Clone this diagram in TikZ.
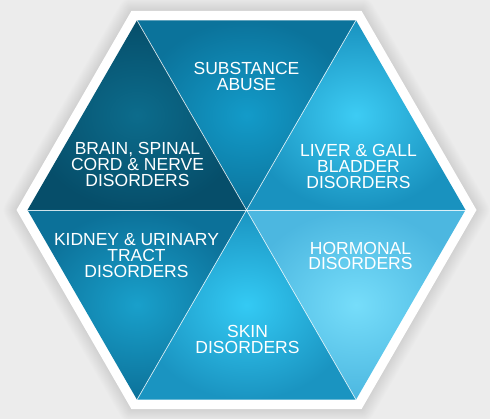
\documentclass[tikz,border=0pt]{standalone}
\usepackage{fontspec}
\setmainfont{Liberation Sans}
\definecolor{bg}{HTML}{ECECEC}
\definecolor{tIn}{HTML}{139BC9}\definecolor{tOut}{HTML}{0B739B}
\definecolor{ulIn}{HTML}{0C6C8C}\definecolor{ulOut}{HTML}{064E6A}
\definecolor{urIn}{HTML}{3DCCF4}\definecolor{urOut}{HTML}{1992BF}
\definecolor{llIn}{HTML}{19A0CB}\definecolor{llOut}{HTML}{0C7199}
\definecolor{lrIn}{HTML}{76DDFA}\definecolor{lrOut}{HTML}{4CB7E0}
\definecolor{bIn}{HTML}{34CAF4}\definecolor{bOut}{HTML}{1A94C1}
\tikzset{
  lbl/.style={text=white, align=center, inner sep=0pt,
    font=\fontsize{17.5}{15.8}\selectfont},
  sep/.style={draw=white, draw opacity=0.8, line width=0.7pt},
  shadowring/.style={draw=black, draw opacity=0.009, line join=round, line width=#1},
}
\begin{document}
\begin{tikzpicture}[x=1pt,y=-1pt]
\fill[bg] (0,0) rectangle (490,419);
\useasboundingbox (0,0) rectangle (490,419);
% outer white frame
\coordinate (oL) at (16.5,210);
\coordinate (oTL) at (131.5,10.8);
\coordinate (oTR) at (361.5,10.8);
\coordinate (oR) at (476.5,210);
\coordinate (oBR) at (361.5,409.2);
\coordinate (oBL) at (131.5,409.2);
% soft shadow
\foreach \w in {2,4,...,26}{
  \draw[shadowring=\w pt, shift={(1.5,3)}] (oL) -- (oTL) -- (oTR) -- (oR) -- (oBR) -- (oBL) -- cycle;
}
\fill[white] (oL) -- (oTL) -- (oTR) -- (oR) -- (oBR) -- (oBL) -- cycle;
% inner hexagon
\coordinate (C) at (246.5,210);
\coordinate (L) at (27.5,210);
\coordinate (TL) at (137,20.3);
\coordinate (TR) at (356,20.3);
\coordinate (R) at (465.5,210);
\coordinate (BR) at (356,399.7);
\coordinate (BL) at (137,399.7);
\shade[inner color=tIn, outer color=tOut] (TL) -- (TR) -- (C) -- cycle;
\shade[inner color=ulIn, outer color=ulOut] (L) -- (TL) -- (C) -- cycle;
\shade[inner color=urIn, outer color=urOut] (TR) -- (R) -- (C) -- cycle;
\shade[inner color=llIn, outer color=llOut] (L) -- (BL) -- (C) -- cycle;
\shade[inner color=lrIn, outer color=lrOut] (R) -- (BR) -- (C) -- cycle;
\shade[inner color=bIn, outer color=bOut] (BL) -- (BR) -- (C) -- cycle;
% separators
\draw[sep] (TL) -- (BR);
\draw[sep] (TR) -- (BL);
\draw[sep] (L) -- (R);
% labels
\node[lbl] (subst) at (246.5,76.4) {SUBSTANCE\\ABUSE};
\node[lbl] (brain) at (137.5,164.3) {BRAIN, SPINAL\\CORD \& NERVE\\DISORDERS};
\node[lbl] (liver) at (358.5,166.4) {LIVER \& GALL\\BLADDER\\DISORDERS};
\node[lbl] (kidney) at (136.5,255.5) {KIDNEY \& URINARY\\TRACT\\DISORDERS};
\node[lbl] (hormonal) at (360.5,255.9) {HORMONAL\\DISORDERS};
\node[lbl] (skin) at (247.5,339.4) {SKIN\\DISORDERS};
\end{tikzpicture}
\end{document}
